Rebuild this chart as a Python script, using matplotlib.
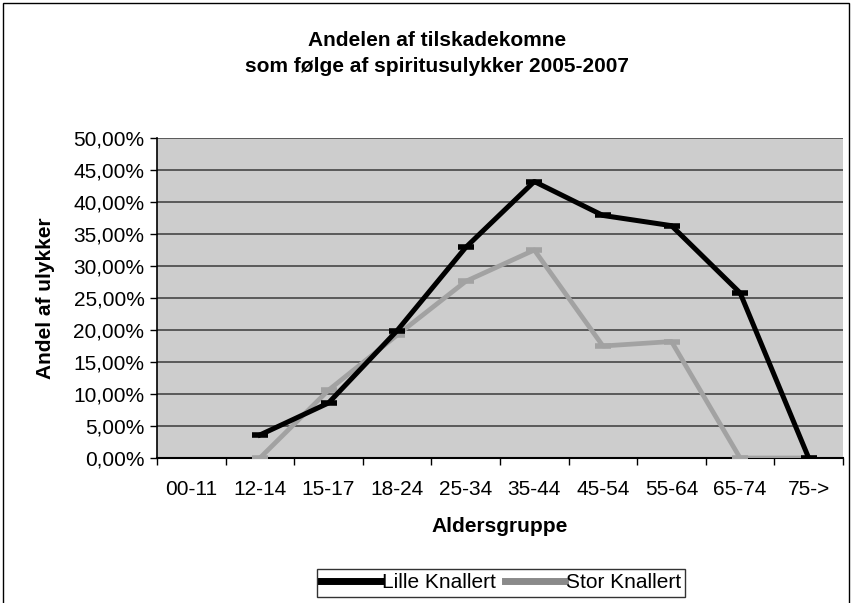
import numpy as np
import matplotlib
matplotlib.use("Agg")
import matplotlib.pyplot as plt
from matplotlib.patches import Rectangle
from matplotlib.ticker import FixedLocator, FuncFormatter

categories = ["00-11", "12-14", "15-17", "18-24", "25-34", "35-44", "45-54", "55-64", "65-74", "75->"]
lille = [np.nan, 3.6, 8.6, 19.9, 32.9, 43.2, 37.9, 36.3, 25.8, 0.0]
stor = [np.nan, 0.0, 10.6, 19.2, 27.6, 32.5, 17.5, 18.2, 0.0, 0.0]
yticks = [0, 5, 10, 15, 20, 25, 30, 35, 40, 45, 50]

plt.rcParams['font.family'] = ['Liberation Sans', 'DejaVu Sans']
FS = 15

fig = plt.figure(figsize=(8.51, 6.03), dpi=100)
ax = fig.add_axes([157/851, 1 - 458/603, (843 - 157)/851, (458 - 138)/603])

# outer chart frame
fig.patches.append(Rectangle((3/851, -0.01), (849 - 3)/851, 1 - 3/603 + 0.01,
                             transform=fig.transFigure, fill=False,
                             edgecolor='black', linewidth=1.0))

ax.set_facecolor('#cdcdcd')
x = np.arange(len(categories))
ax.plot(x, stor, color='#a2a2a2', lw=3.4, marker='_', ms=12, mew=4,
        label='Stor Knallert', zorder=3)
ax.plot(x, lille, color='black', lw=3.6, marker='_', ms=12, mew=4,
        label='Lille Knallert', zorder=4)

ax.set_xlim(-0.5, len(categories) - 0.5)
ax.set_ylim(0, 50)
ax.set_yticks(yticks)
ax.yaxis.set_major_formatter(FuncFormatter(lambda v, p: f"{v:.2f}%".replace('.', ',')))
ax.grid(axis='y', color='#505050', lw=1.3)
ax.set_axisbelow(True)

ax.set_xticks(x)
ax.set_xticklabels(categories)
ax.xaxis.set_minor_locator(FixedLocator(np.arange(-0.5, len(categories), 1.0)))
ax.tick_params(axis='x', which='major', length=0, pad=16, labelsize=FS)
ax.tick_params(axis='x', which='minor', length=5, width=1, direction='out')
ax.tick_params(axis='y', length=5, width=1, direction='out', labelsize=FS, pad=4)

for s in ['top', 'right']:
    ax.spines[s].set_visible(False)
ax.spines['left'].set_linewidth(1.2)
ax.spines['bottom'].set_linewidth(1.5)

fig.text(46/851, 1 - 298/603, 'Andel af ulykker', rotation=90, ha='center', va='center',
         fontsize=FS, fontweight='bold')
fig.text(500/851, 1 - 527/603, 'Aldersgruppe', ha='center', va='center',
         fontsize=FS, fontweight='bold')

fig.text(437/851, 1 - 40/603, 'Andelen af tilskadekomne', ha='center', va='center',
         fontsize=FS, fontweight='bold')
fig.text(437/851, 1 - 67/603, 'som følge af spiritusulykker 2005-2007', ha='center', va='center',
         fontsize=FS, fontweight='bold')

h, l = ax.get_legend_handles_labels()
leg = fig.legend(h[::-1], l[::-1], loc='center', bbox_to_anchor=(501/851, 1 - 583/603),
                 ncol=2, frameon=True, fancybox=False, edgecolor='black',
                 fontsize=FS, handlelength=2.9, handletextpad=0.05, columnspacing=0.4,
                 borderpad=0.2, borderaxespad=0)
leg.get_frame().set_linewidth(1.0)
for line in leg.get_lines():
    line.set_marker('')
    line.set_linewidth(5)
leg.get_lines()[1].set_color('#8a8a8a')

fig.savefig('out.png', dpi=100, facecolor='white')
